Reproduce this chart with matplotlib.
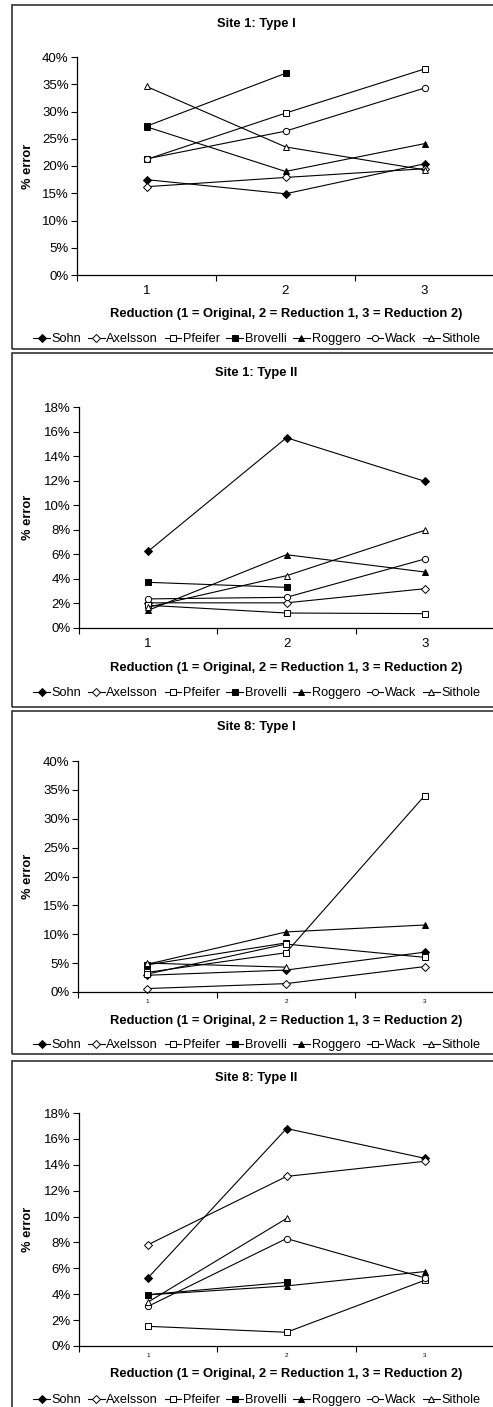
import numpy as np
import matplotlib
matplotlib.use("Agg")
import matplotlib.pyplot as plt
from matplotlib.patches import Rectangle
from matplotlib.ticker import FuncFormatter, FixedLocator

plt.rcParams["font.family"] = ["Liberation Sans", "DejaVu Sans"]

W, H = 493, 1407

reductions = [1, 2, 3]
methods = ["Sohn", "Axelsson", "Pfeifer", "Brovelli", "Roggero", "Wack", "Sithole"]
nan = np.nan

# % error per method, one list per panel (rows follow `methods`)
site1_type1 = [
    [17.5, 14.9, 20.4],
    [16.2, 17.9, 19.5],
    [21.2, 29.7, 37.8],
    [27.3, 37.0, nan],
    [27.2, 19.0, 24.1],
    [21.3, 26.4, 34.3],
    [34.6, 23.5, 19.3],
]
site1_type2 = [
    [6.25, 15.5, 11.95],
    [2.05, 2.05, 3.2],
    [1.85, 1.22, 1.17],
    [3.72, 3.31, nan],
    [1.44, 5.97, 4.56],
    [2.37, 2.5, 5.62],
    [1.7, 4.26, 7.96],
]
site8_type1 = [
    [2.9, 3.8, 6.9],
    [0.6, 1.45, 4.4],
    [3.4, 6.8, 34.0],
    [4.7, 8.5, nan],
    [4.8, 10.4, 11.6],
    [3.1, 8.3, 6.0],
    [5.0, 4.3, nan],
]
site8_type2 = [
    [5.28, 16.8, 14.5],
    [7.83, 13.1, 14.27],
    [1.52, 1.06, 5.08],
    [3.97, 4.92, nan],
    [3.95, 4.64, 5.75],
    [3.07, 8.3, 5.26],
    [3.4, 9.85, nan],
]

# marker, filled?
styles = {
    "Sohn": ("D", True),
    "Axelsson": ("D", False),
    "Pfeifer": ("s", False),
    "Brovelli": ("s", True),
    "Roggero": ("^", True),
    "Wack": ("o", False),
    "Sithole": ("^", False),
}

fig = plt.figure(figsize=(W / 100, H / 100), dpi=100)


def fx(px):
    return px / W


def fy(py):
    return 1 - py / H


def panel(title, data, ymax, ystep, frame, ax_px, text_y, tick_fs, wack_marker="o"):
    # frame: (top, bottom) in pixels, ax_px: (left, top, bottom), text_y: (title, xlabel, legend)
    ftop, fbot = frame
    fig.patches.append(Rectangle((fx(12), fy(fbot)), fx(W + 20), (fbot - ftop) / H,
                                 transform=fig.transFigure, fill=False,
                                 edgecolor="#222222", lw=1.1))
    left, top, bottom = ax_px
    right = 494
    ax = fig.add_axes([fx(left), fy(bottom), (right - left) / W, (bottom - top) / H])
    for name, vals in zip(methods, data):
        mk, filled = styles[name]
        if name == "Wack":
            mk = wack_marker
        ms = 3.8 if mk == "D" else 4.5
        ax.plot(reductions, vals, color="black", lw=0.8, marker=mk, ms=ms,
                mfc="black" if filled else "white", mec="black", mew=0.7,
                label=name, clip_on=False)
    ax.set_xlim(0.5, 3.5)
    ax.set_ylim(0, ymax)
    ax.set_yticks(np.arange(0, ymax + 0.01, ystep))
    ax.yaxis.set_major_formatter(FuncFormatter(lambda v, p: f"{v:.0f}%"))
    ax.set_xticks(reductions)
    ax.xaxis.set_minor_locator(FixedLocator([0.5, 1.5, 2.5, 3.5]))
    ax.tick_params(axis="x", which="major", length=0, labelsize=tick_fs, pad=7 if tick_fs > 6 else 5)
    ax.tick_params(axis="x", which="minor", length=4, width=0.8, direction="out")
    ax.tick_params(axis="y", length=4, width=0.8, labelsize=9.5, pad=2)
    for s in ["top", "right"]:
        ax.spines[s].set_visible(False)
    for s in ["left", "bottom"]:
        ax.spines[s].set_linewidth(0.9)
    ax.set_facecolor("none")

    ty, xl_y, leg_y = text_y
    fig.text(fx(256), fy(ty), title, ha="center", va="center", fontsize=9.3, fontweight="bold")
    fig.text(fx(286), fy(xl_y), "Reduction (1 = Original, 2 = Reduction 1, 3 = Reduction 2)",
             ha="center", va="center", fontsize=9.4, fontweight="bold")
    fig.text(fx(28), fy((top + bottom) / 2), "% error", ha="center", va="center",
             rotation=90, fontsize=9.3, fontweight="bold")
    handles, labels = ax.get_legend_handles_labels()
    fig.legend(handles, labels, loc="center", bbox_to_anchor=(fx(257), fy(leg_y)),
               ncol=7, frameon=False, fontsize=9.2, handlelength=1.3,
               handletextpad=0.15, columnspacing=0.5, borderaxespad=0)


panel("Site 1: Type I", site1_type1, 40, 5, (5, 349), (77, 57, 275),
      (24, 314, 339), 9.5)
panel("Site 1: Type II", site1_type2, 18, 2, (353, 707), (79, 407, 628),
      (373, 668, 693), 9.5)
panel("Site 8: Type I", site8_type1, 40, 5, (711, 1054), (78, 761, 992),
      (727, 1021, 1045), 4.5, wack_marker="s")
panel("Site 8: Type II", site8_type2, 18, 2, (1061, 1420), (79, 1113, 1346),
      (1078, 1374, 1400), 4.5)

fig.savefig("out.png", dpi=100)
